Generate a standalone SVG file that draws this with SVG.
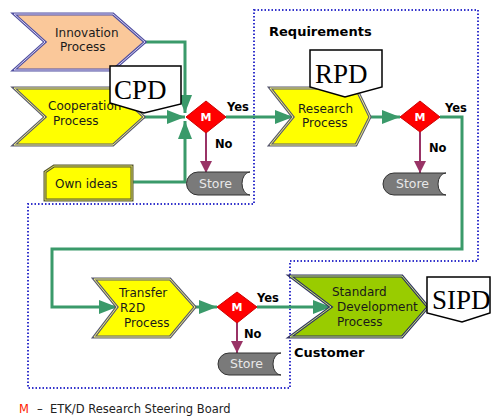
<svg xmlns="http://www.w3.org/2000/svg" width="492" height="419" viewBox="0 0 492 419">
<style>
.lbl{font-family:"DejaVu Sans",Verdana,sans-serif;font-size:12px;fill:#1a1a1a}
.bold{font-family:"DejaVu Sans",Verdana,sans-serif;font-size:11.5px;font-weight:bold;fill:#000}
.big{font-family:"Liberation Serif","Times New Roman",serif;font-size:27px;fill:#000}
.store{font-family:"DejaVu Sans",Verdana,sans-serif;font-size:12.5px;fill:#e8e8e8}
.m{font-family:"DejaVu Sans",Verdana,sans-serif;font-size:11px;font-weight:bold;fill:#fff}
.g{fill:none;stroke:#3a9a6a;stroke-width:3}
.n{fill:none;stroke:#993366;stroke-width:2}
.dia{fill:#ff0000;stroke:#cc0000;stroke-width:1}
.call{fill:#fff;stroke:#000;stroke-width:1.5}
.st{fill:#7a7a7a;stroke:#333;stroke-width:1}
</style>
<defs>
<marker id="ga" markerUnits="userSpaceOnUse" markerWidth="18" markerHeight="14" refX="18" refY="7" orient="auto"><path d="M0,0 L18,7 L0,14 Z" fill="#3a9a6a"/></marker>
<marker id="na" markerUnits="userSpaceOnUse" markerWidth="12" markerHeight="12" refX="12" refY="6" orient="auto"><path d="M0,0 L12,6 L0,12 Z" fill="#993366"/></marker>
</defs>
<rect width="492" height="419" fill="#fff"/>
<polygon points="254,10 478,10 478,261 290,261 290,388 28,388 28,204 254,204" fill="none" stroke="#3333cc" stroke-width="2" stroke-dasharray="1.5 2"/>
<text class="bold" x="269" y="36" style="font-size:13px">Requirements</text>
<text class="bold" x="294" y="357" style="font-size:13px">Customer</text>
<g id="connectors">
<path class="g" d="M145,42 H185 V113" marker-end="url(#ga)"/>
<path class="g" d="M144,117 H185" marker-end="url(#ga)"/>
<path class="g" d="M132,182 H185 V121" marker-end="url(#ga)"/>
<path class="g" d="M226,117 H293" marker-end="url(#ga)"/>
<path class="g" d="M370,117 H400" marker-end="url(#ga)"/>
<path class="g" d="M440,117 H462 V249 H52 V307 H117" marker-end="url(#ga)"/>
<path class="g" d="M195,307 H217" marker-end="url(#ga)"/>
<path class="g" d="M257,307 H331" marker-end="url(#ga)"/>
<path class="n" d="M206,133 V173" marker-end="url(#na)"/>
<path class="n" d="M420,132 V173" marker-end="url(#na)"/>
<path class="n" d="M237,323 V353" marker-end="url(#na)"/>
<text class="bold" x="227" y="111">Yes</text>
<text class="bold" x="215" y="148">No</text>
<text class="bold" x="445" y="112">Yes</text>
<text class="bold" x="429" y="152">No</text>
<text class="bold" x="257" y="302">Yes</text>
<text class="bold" x="244" y="338">No</text>
</g>
<g id="innovation">
<polygon points="14,14 113,14 145,42 113,70 14,70 45,42" fill="#fac89a" stroke="#5050a0" stroke-width="3"/>
<polygon points="14,14 113,14 145,42 113,70 14,70 45,42" fill="none" stroke="#d8d0f4" stroke-width="1"/>
<text class="lbl" x="55" y="37">Innovation</text>
<text class="lbl" x="60" y="51">Process</text>
</g>
<g id="cooperation">
<polygon points="14,88 113,88 144,117 113,145 14,145 45,117" fill="#ffff00" stroke="#5a5a70" stroke-width="3"/>
<polygon points="14,88 113,88 144,117 113,145 14,145 45,117" fill="none" stroke="#f0f080" stroke-width="1"/>
<text class="lbl" x="48" y="110">Cooperation</text>
<text class="lbl" x="53" y="125">Process</text>
</g>
<g id="cpd">
<polygon class="call" points="110,66 181,66 181,104 144,113 110,103"/>
<text class="big" x="114" y="99">CPD</text>
</g>
<g id="ownideas">
<polygon points="45,172 54,166 132,166 132,200 45,200" fill="#ffff00" stroke="#555530" stroke-width="3"/>
<polygon points="45,172 54,166 132,166 132,200 45,200" fill="none" stroke="#d8d860" stroke-width="1"/>
<text class="lbl" x="55" y="188">Own ideas</text>
</g>
<g id="d1">
<polygon class="dia" points="186,117 206,101 226,117 206,133"/>
<text class="m" x="206" y="121" text-anchor="middle">M</text>
</g>
<g id="store1">
<path class="st" d="M198,172 H250 A8,11.5 0 0 0 250,195 H198 A11.5,11.5 0 0 1 198,172 Z"/>
<text class="store" x="199" y="188">Store</text>
</g>
<g id="research">
<polygon points="270,88 356,88 370,117 356,145 270,145 293,117" fill="#ffff00" stroke="#5a5a70" stroke-width="3"/>
<polygon points="270,88 356,88 370,117 356,145 270,145 293,117" fill="none" stroke="#f0f080" stroke-width="1"/>
<text class="lbl" x="298" y="113">Research</text>
<text class="lbl" x="302" y="127">Process</text>
</g>
<g id="rpd">
<polygon class="call" points="310,50 382,50 382,87 345,97 310,87"/>
<text class="big" x="315" y="83">RPD</text>
</g>
<g id="d2">
<polygon class="dia" points="400,117 420,101 440,117 420,132"/>
<text class="m" x="420" y="121" text-anchor="middle">M</text>
</g>
<g id="store2">
<path class="st" d="M394,173 H446 A8,11 0 0 0 446,195 H394 A11,11 0 0 1 394,173 Z"/>
<text class="store" x="396" y="188">Store</text>
</g>
<g id="transfer">
<polygon points="94,279 170,279 195,307 170,337 94,337 117,307" fill="#ffff00" stroke="#5a5a70" stroke-width="3"/>
<polygon points="94,279 170,279 195,307 170,337 94,337 117,307" fill="none" stroke="#f0f080" stroke-width="1"/>
<text class="lbl" x="119" y="297">Transfer</text>
<text class="lbl" x="120" y="312">R2D</text>
<text class="lbl" x="124" y="327">Process</text>
</g>
<g id="d3">
<polygon class="dia" points="217,307 237,292 257,307 237,323"/>
<text class="m" x="237" y="311" text-anchor="middle">M</text>
</g>
<g id="store3">
<path class="st" d="M229,353 H281 A8,11 0 0 0 281,375 H229 A11,11 0 0 1 229,353 Z"/>
<text class="store" x="230" y="368">Store</text>
</g>
<g id="standard">
<polygon points="290,276 402,276 428,307 402,337 290,337 331,307" fill="#99cc00" stroke="#333366" stroke-width="3"/>
<polygon points="290,276 402,276 428,307 402,337 290,337 331,307" fill="none" stroke="#c8e870" stroke-width="1"/>
<text class="lbl" x="332" y="296">Standard</text>
<text class="lbl" x="337" y="311">Development</text>
<text class="lbl" x="337" y="326">Process</text>
</g>
<g id="sipd">
<polygon class="call" points="427,277 490,277 490,313 462,322 427,313"/>
<text class="big" x="432" y="309">SIPD</text>
</g>
<g id="legend">
<text x="19" y="413" style="font-family:'DejaVu Sans',Verdana,sans-serif;font-size:11.5px;fill:#ff2200">M</text>
<text x="37" y="413" style="font-family:'DejaVu Sans',Verdana,sans-serif;font-size:11.5px;fill:#222">–</text>
<text x="50" y="413" style="font-family:'DejaVu Sans',Verdana,sans-serif;font-size:11.5px;fill:#222">ETK/D Research Steering Board</text>
</g>
</svg>
